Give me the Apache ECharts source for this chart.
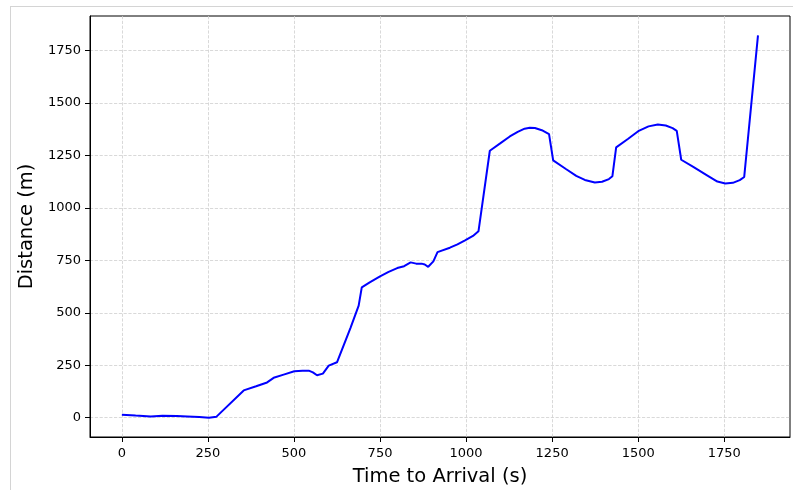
<!DOCTYPE html>
<html>
<head>
<meta charset="utf-8">
<script src="https://cdn.jsdelivr.net/npm/echarts@6/dist/echarts.min.js"></script>
<style>
  html, body { margin: 0; padding: 0; background: #fff; overflow: hidden; }
  #frame { position: absolute; left: 10px; top: 6px; width: 800px; height: 500px; border: 1px solid #d4d4d4; }
  #chart { position: absolute; left: 0; top: 0; width: 793px; height: 490px; }
</style>
</head>
<body>
<div id="frame"></div>
<div id="chart"></div>
<script>
// time to arrival (s) and distance (m)
const times = [0, 40, 84, 118, 160, 190, 225, 253, 275, 354, 390, 422, 441, 470, 501, 525, 543, 555, 567, 584, 601, 625, 664, 688, 697,
  720, 750, 775, 800, 820, 839, 855, 871, 880, 890, 905, 917, 953, 975, 997, 1020, 1036,
  1069, 1100, 1127, 1150, 1170, 1185, 1200, 1220, 1241, 1253,
  1290, 1320, 1345, 1374, 1395, 1415, 1425, 1436,
  1470, 1500, 1530, 1557, 1580, 1600, 1612, 1625,
  1660, 1700, 1730, 1753, 1775, 1795, 1808, 1848];
const distances = [14, 10, 6, 9, 8, 6, 3, 0, 5, 130, 150, 168, 190, 205, 221, 224, 224, 216, 202, 210, 248, 264, 427, 534, 621,
  645, 673, 695, 713, 722, 740, 734, 734, 730, 719, 745, 789, 810, 826, 845, 866, 888,
  1272, 1308, 1340, 1362, 1377, 1381, 1380, 1370, 1351, 1226,
  1185, 1152, 1133, 1121, 1124, 1137, 1150, 1288,
  1328, 1365, 1388, 1397, 1392, 1380, 1367, 1229,
  1195, 1155, 1125, 1116, 1119, 1132, 1147, 1822];
const xTicks = [0, 250, 500, 750, 1000, 1250, 1500, 1750];
const yTicks = [0, 250, 500, 750, 1000, 1250, 1500, 1750];

const chart = echarts.init(document.getElementById('chart'));
const font = 'DejaVu Sans';
const grid = { show: true, type: 'dashed', color: '#cfcfcf', width: 0.8 };

chart.setOption({
  animation: false,
  grid: {
    left: 90, right: 3, top: 16, bottom: 53, outerBoundsMode: 'none',
    show: true, borderColor: '#000', borderWidth: 1, backgroundColor: 'transparent'
  },
  xAxis: {
    type: 'value', min: -92.5, max: 1941,
    name: 'Time to Arrival (s)', nameLocation: 'middle', nameGap: 30,
    nameTextStyle: { fontFamily: font, fontSize: 19.5, color: '#000' },
    axisLine: { show: true, onZero: false, lineStyle: { color: '#000', width: 1 } },
    axisTick: { show: true, length: 5, lineStyle: { color: '#000' }, customValues: xTicks },
    axisLabel: { fontFamily: font, fontSize: 13, color: '#000', margin: 10, customValues: xTicks, formatter: v => String(v) },
    splitLine: { show: true, lineStyle: grid }
  },
  yAxis: {
    type: 'value', min: -92, max: 1914,
    name: 'Distance (m)', nameLocation: 'middle', nameGap: 49,
    nameTextStyle: { fontFamily: font, fontSize: 19.5, color: '#000' },
    axisLine: { show: true, onZero: false, lineStyle: { color: '#000', width: 1 } },
    axisTick: { show: true, length: 5, lineStyle: { color: '#000' }, customValues: yTicks },
    axisLabel: { fontFamily: font, fontSize: 13, color: '#000', margin: 9, customValues: yTicks, formatter: v => String(v) },
    splitLine: { show: true, lineStyle: grid }
  },
  series: [{
    type: 'line',
    data: times.map((t, i) => [t, distances[i]]),
    showSymbol: false,
    smooth: false,
    lineStyle: { color: '#0000ff', width: 2 }
  }]
});
</script>
</body>
</html>
